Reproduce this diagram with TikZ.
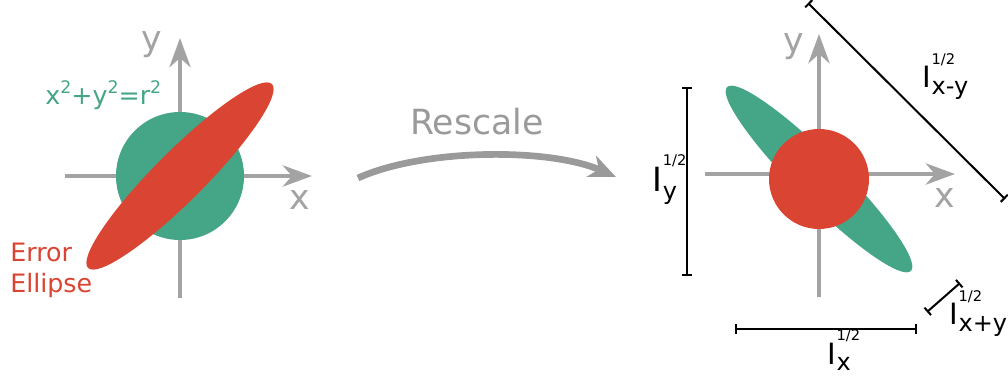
\documentclass[tikz,border=0pt]{standalone}
\usepackage{fontspec}
\setmainfont{DejaVu Sans}
\usepackage{xcolor}
\definecolor{ellgreen}{HTML}{45A587}
\definecolor{ellred}{HTML}{D94532}
\definecolor{axisgray}{HTML}{A3A3A3}
\definecolor{arrgray}{HTML}{9A9A9A}
\usetikzlibrary{positioning,arrows.meta}

% I with 1/2 on top and a subscript
\newcommand{\Ilab}[1]{I\kern0.5pt\rlap{\raisebox{0.8em}{\fontsize{11}{11}\selectfont 1/2}}\raisebox{-0.22em}{\fontsize{18}{18}\selectfont #1}}
% superscript two
\newcommand{\sqr}{\raisebox{0.45em}{\fontsize{13}{13}\selectfont 2}}

\begin{document}
\begin{tikzpicture}[
        x=0.75pt, y=-0.75pt,
        axis/.style={draw=axisgray, line width=3pt, -{Stealth[length=22pt, width=16pt, inset=7pt]}},
        axislabel/.style={text=axisgray, font=\fontsize{26}{26}\selectfont, inner sep=0pt},
        scalebar/.style={draw=black, line width=1.5pt, {Bar[width=7.5pt]}-{Bar[width=7.5pt]}},
        scalelabel/.style={font=\fontsize{22}{22}\selectfont, inner sep=0pt, anchor=base west},
        rescalearr/.style={draw=arrgray, line width=5pt, -{Stealth[length=20pt, width=17pt, inset=6pt]}},
    ]
    \useasboundingbox (0,0) rectangle (1008,381);

    % === Left: circle and error ellipse ===
    \coordinate (lxs) at (65,176);
    \coordinate (lxe) at (312,176);
    \coordinate (lys) at (180,298);
    \coordinate (lye) at (180,38);
    \draw[axis] (lxs) -- (lxe);
    \draw[axis] (lys) -- (lye);

    \coordinate (lc) at (180,176);
    \fill[ellgreen] (lc) circle[radius=64];
    \fill[ellred, rotate around={45:(lc)}] (lc) ellipse[x radius=130, y radius=25];

    \node[axislabel] (lylab) at (152,45) {y};
    \node[axislabel] (lxlab) at (300,200) {x};
    \node[text=ellgreen, font=\fontsize{19}{19}\selectfont, inner sep=0pt, anchor=base west] (circlab) at (45,105) {x\sqr+y\sqr=r\sqr};
    \node[text=ellred, font=\fontsize{19}{19}\selectfont, inner sep=0pt, anchor=base west] (errlab) at (10,262) {Error};
    \node[text=ellred, font=\fontsize{19}{19}\selectfont, inner sep=0pt, anchor=base west] (elllab) at (10,293) {Ellipse};

    % === Middle: rescale arrow ===
    \coordinate (rs) at (358,178);
    \coordinate (re) at (616,177);
    \draw[rescalearr] (rs) .. controls (425,148) and (550,148) .. (re);
    \node[text=arrgray, font=\fontsize{26}{26}\selectfont, inner sep=0pt, anchor=base] (rslab) at (477,135) {Rescale};

    % === Right: rescaled picture ===
    \coordinate (rxs) at (705,174);
    \coordinate (rxe) at (955,174);
    \coordinate (rys) at (819,297);
    \coordinate (rye) at (819,34);
    \draw[axis] (rxs) -- (rxe);
    \draw[axis] (rys) -- (rye);

    \coordinate (rc) at (819,179);
    \fill[ellgreen, rotate around={-45:(rc)}] (rc) ellipse[x radius=130, y radius=23];
    \fill[ellred] (rc) circle[radius=50];

    \node[axislabel] (rylab) at (794,47) {y};
    \node[axislabel] (rxlab) at (945,198) {x};

    % === Scale bars ===
    \coordinate (vbt) at (687,87);
    \coordinate (vbb) at (687,276);
    \coordinate (hbl) at (735,329);
    \coordinate (hbr) at (917,329);
    \coordinate (dlt) at (808,3);
    \coordinate (dlb) at (1005,199);
    \coordinate (dsb) at (927,312);
    \coordinate (dst) at (960,283);
    \draw[scalebar] (vbt) -- (vbb);
    \draw[scalebar] (hbl) -- (hbr);
    \draw[scalebar] (dlt) -- (dlb);
    \draw[scalebar] (dsb) -- (dst);

    \node[scalelabel, font=\fontsize{25}{25}\selectfont] (iylab) at (652,192) {\Ilab{y}};
    \node[scalelabel] (ixlab) at (827,364) {\Ilab{x}};
    \node[scalelabel] (ixmylab) at (922,88) {\Ilab{x-y}};
    \node[scalelabel] (ixpylab) at (949,325) {\Ilab{x+y}};

\end{tikzpicture}
\end{document}
